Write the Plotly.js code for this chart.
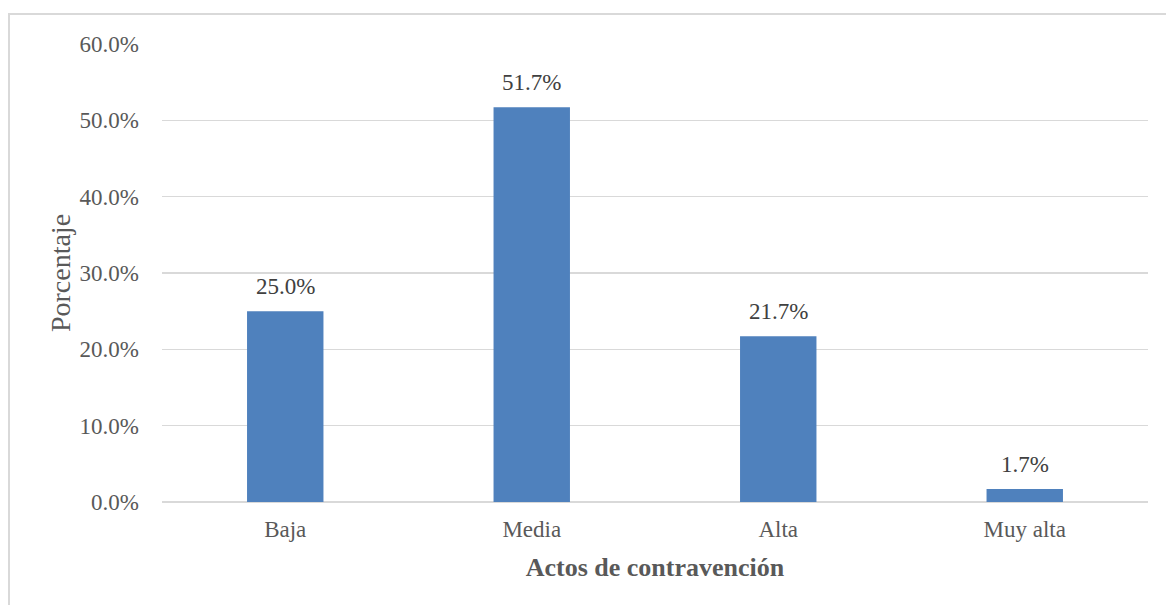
<!DOCTYPE html>
<html><head><meta charset="utf-8">
<script src="https://cdn.plot.ly/plotly-3.0.1.min.js"></script>
<style>
html,body{margin:0;padding:0;background:#fff;overflow:hidden;}
#frame{position:absolute;left:8px;top:13px;width:1170px;height:600px;border:2px solid #d9d9d9;box-sizing:border-box;pointer-events:none;z-index:5;}
#chart{position:absolute;left:0;top:0;width:1166px;height:605px;}
</style></head>
<body>
<div id="chart"></div>
<div id="frame"></div>
<script>
const categories = ["Baja", "Media", "Alta", "Muy alta"];
const values = [25.0, 51.7, 21.7, 1.7];
const labels = ["25.0%", "51.7%", "21.7%", "1.7%"];
const tickVals = [0, 10, 20, 30, 40, 50, 60];
const tickText = ["0.0%", "10.0%", "20.0%", "30.0%", "40.0%", "50.0%", "60.0%"];

const font = "'Liberation Serif', 'Times New Roman', serif";

const trace = {
  type: "bar",
  x: categories,
  y: values,
  marker: {color: "#4f81bd"},
  hoverinfo: "none"
};

const annotations = categories.map((c, i) => ({
  x: c, y: values[i], xref: "x", yref: "y",
  text: labels[i], showarrow: false,
  yanchor: "bottom", yshift: 10,
  font: {family: font, size: 23, color: "#404040"}
}));

const layout = {
  width: 1166, height: 605,
  margin: {l: 162, r: 18, t: 44, b: 103},
  paper_bgcolor: "#fff", plot_bgcolor: "#fff",
  bargap: 0.69,
  showlegend: false,
  font: {family: font, size: 23, color: "#595959"},
  xaxis: {
    type: "category",
    showgrid: false, zeroline: false,
    showline: false, ticks: "",
    tickfont: {family: font, size: 23, color: "#595959"},
    ticklabelstandoff: 11,
    title: {text: "<b>Actos de contravención</b>", font: {family: font, size: 26, color: "#595959"}, standoff: 16}
  },
  yaxis: {
    range: [0, 60],
    tickvals: tickVals, ticktext: tickText,
    showgrid: true, gridcolor: "#d9d9d9", gridwidth: 1.5,
    zeroline: true, zerolinecolor: "#d9d9d9", zerolinewidth: 1.5,
    showline: false, ticks: "",
    tickfont: {family: font, size: 23, color: "#595959"},
    ticklabelstandoff: 22,
    title: {text: "Porcentaje", font: {family: font, size: 28, color: "#595959"}, standoff: 0}
  },
  annotations: annotations
};

Plotly.newPlot("chart", [trace], layout, {staticPlot: true, displayModeBar: false});
</script>
</body></html>
